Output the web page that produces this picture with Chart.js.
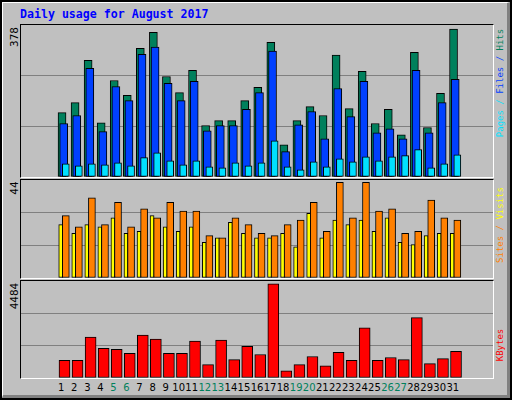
<!DOCTYPE html>
<html><head><meta charset="utf-8">
<script src="https://cdn.jsdelivr.net/npm/chart.js@4"></script>
<style>
body{margin:0;width:512px;height:400px;overflow:hidden;background:#fff}
#frame{position:absolute;left:0;top:0;width:508px;height:396px;background:#c0c0c0;border:2px solid #000;box-sizing:content-box}
#frame:before{content:"";position:absolute;left:0;top:0;right:0;bottom:0;border-top:1px solid #fff;border-left:1px solid #fff;border-right:3px solid #808080;border-bottom:3px solid #808080}
.pan{position:absolute;left:20px;width:472px;border-top:1px solid #000;border-left:1px solid #000;border-right:1px solid #fff;border-bottom:1px solid #fff}
.pan canvas{display:block}
#title{position:absolute;left:20px;top:7px;font:bold 11.6px "DejaVu Sans Mono",monospace;color:#0000ff}
.rot{position:absolute;transform:translate(-50%,-50%) rotate(-90deg);white-space:nowrap;font:9px "DejaVu Sans Mono",monospace}
.lab{font-size:11px}
.day{position:absolute;top:382px;font:10px "DejaVu Sans",sans-serif;transform:translateX(-50%)}
</style></head><body>
<div id="frame"></div>
<div id="title">Daily usage for August 2017</div>
<div class="pan" style="top:24px;height:152px"><canvas id="c1" width="472" height="152"></canvas></div>
<div class="pan" style="top:179px;height:98px"><canvas id="c2" width="472" height="98"></canvas></div>
<div class="pan" style="top:280px;height:97px"><canvas id="c3" width="472" height="97"></canvas></div>
<div class="rot lab" style="left:14px;top:37px">378</div>
<div class="rot lab" style="left:14px;top:188px">44</div>
<div class="rot lab" style="left:14px;top:296px">4484</div>
<div class="rot" style="left:500px;top:83px"><span style="color:#00e0ff">Pages / </span><span style="color:#0040ff">Files / </span><span style="color:#00805c">Hits</span></div>
<div class="rot" style="left:500px;top:225px"><span style="color:#ff8000">Sites / </span><span style="color:#ffff00">Visits</span></div>
<div class="rot" style="left:500px;top:345px;color:#ff0000">KBytes</div>
<div id="days"></div>
<script>
const days=[1,2,3,4,5,6,7,8,9,10,11,12,13,14,15,16,17,18,19,20,21,22,23,24,25,26,27,28,29,30,31];
const weekend=[5,6,12,13,19,20,26,27];
const hits=[160,185,290,135,240,203,320,360,250,210,265,128,140,140,190,223,335,80,140,175,153,303,170,263,133,168,105,310,123,208,368];
const files=[133,153,270,113,225,190,305,323,233,190,238,115,128,128,168,210,313,63,130,163,95,220,150,238,110,120,95,265,110,185,243];
const pages=[33,28,33,30,35,28,48,60,40,30,40,25,23,35,28,35,90,25,18,38,25,45,38,50,40,50,53,68,23,33,55];
const sites=[24,20,24,23,27,20,21,28,23,21,23,16,18,25,20,18,18,20,14,29,18,26,24,26,21,27,16,15,19,20,20];
const visits=[28,23,36,24,34,23,31,27,34,30,30,19,18,27,24,20,19,24,26,34,21,43,27,43,30,31,20,21,35,27,26];
const kbytes=[845,845,1950,1414,1365,1170,2048,1853,1170,1170,1755,634,1804,878,1511,1121,4484,341,634,1024,585,1219,845,2389,845,975,878,2876,683,926,1268];
const maxTop=378,maxMid=44,maxBot=4484;

function ds(vals,off,color,w,order){
  return {data:days.map((d,i)=>({x:d-1+off,y:vals[i]})),backgroundColor:color,borderColor:'#000',borderWidth:1,borderSkipped:false,barThickness:w,order:order,grouped:false};
}
function mk(id,sets,max){
  return new Chart(document.getElementById(id),{type:'bar',data:{datasets:sets},
    options:{responsive:false,animation:false,events:[],layout:{padding:0},
      plugins:{legend:{display:false},tooltip:{enabled:false}},
      scales:{
        x:{type:'linear',min:0,max:31,display:false},
        y:{min:0,max:max,display:true,border:{display:false},ticks:{display:false},
           afterBuildTicks:a=>{a.ticks=[0,1,2,3].map(k=>({value:max*k/3}));},
           grid:{color:c=>(c.index===1||c.index===2)?'#808080':'rgba(0,0,0,0)',lineWidth:1,drawTicks:false}}
      }}});
}
mk('c1',[ds(hits,0.56,'#00805c',8,3),ds(files,0.69,'#0040ff',8,2),ds(pages,0.85,'#00e0ff',7,1)],maxTop);
mk('c2',[ds(sites,0.46,'#ffff00',4,2),ds(visits,0.85,'#ff8000',7,1)],maxMid);
const c3=mk('c3',[ds(kbytes,0.75,'#ff0000',11,1)],maxBot*1.03);
const dd=document.getElementById('days');
days.forEach(d=>{
  const e=document.createElement('div');e.className='day';e.textContent=d;
  e.style.left=(21+c3.scales.x.getPixelForValue(d-0.5))+'px';
  e.style.color=weekend.includes(d)?'#00805c':'#000';
  dd.appendChild(e);
});
</script></body></html>
